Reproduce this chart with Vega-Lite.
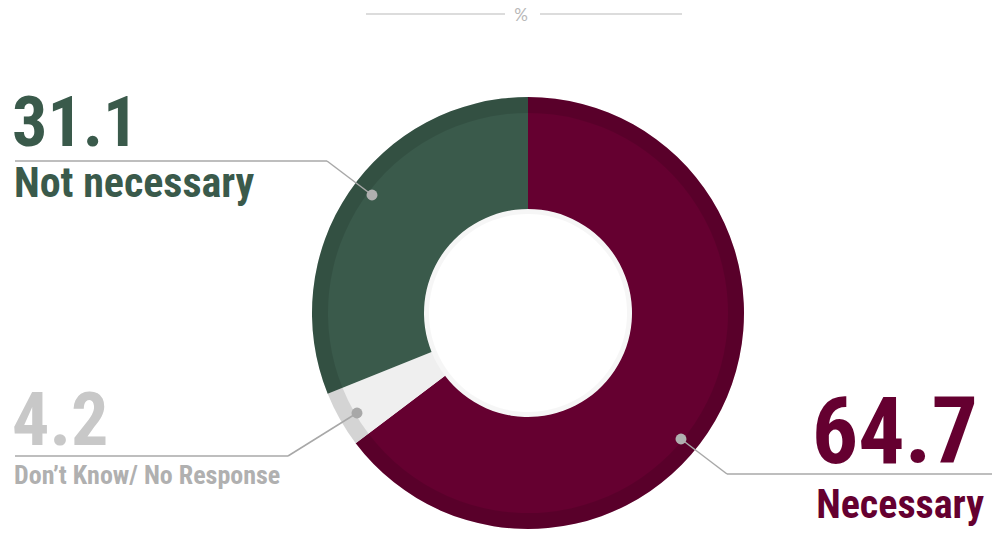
{
  "$schema": "https://vega.github.io/schema/vega-lite/v6.json",
  "width": 996,
  "height": 533,
  "autosize": {"type": "fit", "contains": "padding"},
  "padding": 0,
  "background": "white",
  "view": {"stroke": null},
  "config": {"font": "Roboto Condensed, Liberation Sans Narrow, Roboto, sans-serif"},
  "data": {"values": [
    {"answer": "Necessary", "pct": 64.7},
    {"answer": "Don’t Know/ No Response", "pct": 4.2},
    {"answer": "Not necessary", "pct": 31.1}
  ]},
  "layer": [
    {
      "mark": {"type": "arc", "innerRadius": 104, "outerRadius": 216},
      "encoding": {
        "x": {"datum": 528, "type": "quantitative", "scale": {"domain": [0, 996], "nice": false, "zero": false}, "axis": null},
        "y": {"datum": 313, "type": "quantitative", "scale": {"domain": [0, 533], "nice": false, "zero": false, "reverse": true}, "axis": null},
        "theta": {"field": "pct", "type": "quantitative", "stack": true, "scale": {"range": [4.06519, 10.34838]}},
        "order": {"field": "pct", "type": "quantitative", "sort": "ascending"},
        "color": {"field": "answer", "type": "nominal",
          "scale": {"domain": ["Necessary", "Don’t Know/ No Response", "Not necessary"], "range": ["#650030", "#efefef", "#3a5a4b"]}, "legend": null}
      }
    },
    {
      "mark": {"type": "arc", "innerRadius": 200, "outerRadius": 216, "opacity": 0.11},
      "encoding": {
        "x": {"datum": 528, "type": "quantitative"},
        "y": {"datum": 313, "type": "quantitative"},
        "theta": {"field": "pct", "type": "quantitative", "stack": true},
        "order": {"field": "pct", "type": "quantitative", "sort": "ascending"},
        "color": {"value": "black"}
      }
    },
    {
      "mark": {"type": "arc", "innerRadius": 99, "outerRadius": 104, "opacity": 0.035},
      "encoding": {
        "x": {"datum": 528, "type": "quantitative"},
        "y": {"datum": 313, "type": "quantitative"},
        "theta": {"field": "pct", "type": "quantitative", "stack": true},
        "order": {"field": "pct", "type": "quantitative", "sort": "ascending"},
        "color": {"value": "black"}
      }
    },
    {
      "data": {"values": [{}]},
      "mark": {"type": "rule", "color": "#d0d0d0", "strokeWidth": 1.5},
      "encoding": {"x": {"datum": 366}, "x2": {"datum": 505}, "y": {"datum": 14}, "y2": {"datum": 14}}
    },
    {
      "data": {"values": [{}]},
      "mark": {"type": "rule", "color": "#d0d0d0", "strokeWidth": 1.5},
      "encoding": {"x": {"datum": 540}, "x2": {"datum": 682}, "y": {"datum": 14}, "y2": {"datum": 14}}
    },
    {
      "data": {"values": [{"t": "%"}]},
      "mark": {"type": "text", "fontSize": 17, "color": "#b8b8b8", "align": "center", "baseline": "alphabetic", "font": "Lato"},
      "encoding": {"x": {"datum": 521}, "y": {"datum": 21}, "text": {"field": "t"}}
    },
    {
      "data": {"values": [{}]},
      "mark": {"type": "rule", "color": "#a8a8a8", "strokeWidth": 1.5},
      "encoding": {"x": {"datum": 15}, "x2": {"datum": 327}, "y": {"datum": 161}, "y2": {"datum": 161}}
    },
    {
      "data": {"values": [{}]},
      "mark": {"type": "rule", "color": "#a8a8a8", "strokeWidth": 1.5},
      "encoding": {"x": {"datum": 327}, "x2": {"datum": 372}, "y": {"datum": 161}, "y2": {"datum": 195}}
    },
    {
      "data": {"values": [{}]},
      "mark": {"type": "rule", "color": "#a8a8a8", "strokeWidth": 1.5},
      "encoding": {"x": {"datum": 15}, "x2": {"datum": 288}, "y": {"datum": 456}, "y2": {"datum": 456}}
    },
    {
      "data": {"values": [{}]},
      "mark": {"type": "rule", "color": "#a8a8a8", "strokeWidth": 1.5},
      "encoding": {"x": {"datum": 288}, "x2": {"datum": 357}, "y": {"datum": 456}, "y2": {"datum": 413}}
    },
    {
      "data": {"values": [{}]},
      "mark": {"type": "rule", "color": "#a8a8a8", "strokeWidth": 1.5},
      "encoding": {"x": {"datum": 727}, "x2": {"datum": 992}, "y": {"datum": 474}, "y2": {"datum": 474}}
    },
    {
      "data": {"values": [{}]},
      "mark": {"type": "rule", "color": "#a8a8a8", "strokeWidth": 1.5},
      "encoding": {"x": {"datum": 681}, "x2": {"datum": 727}, "y": {"datum": 439}, "y2": {"datum": 474}}
    },
    {
      "transform": [{"filter": "datum.answer === 'Not necessary'"}],
      "mark": {"type": "point", "filled": true, "color": "#b0b0b0", "opacity": 1, "size": 120},
      "encoding": {"x": {"datum": 372}, "y": {"datum": 195}}
    },
    {
      "transform": [{"filter": "datum.answer === 'Don’t Know/ No Response'"}],
      "mark": {"type": "point", "filled": true, "color": "#a8a8a8", "opacity": 1, "size": 120},
      "encoding": {"x": {"datum": 357}, "y": {"datum": 413}}
    },
    {
      "transform": [{"filter": "datum.answer === 'Necessary'"}],
      "mark": {"type": "point", "filled": true, "color": "#b0b0b0", "opacity": 1, "size": 120},
      "encoding": {"x": {"datum": 681}, "y": {"datum": 439}}
    },
    {
      "transform": [{"filter": "datum.answer === 'Not necessary'"}],
      "mark": {"type": "text", "fontSize": 70, "fontWeight": "bold", "color": "#3a5a4b", "align": "left", "baseline": "alphabetic"},
      "encoding": {"x": {"datum": 12}, "y": {"datum": 146}, "text": {"field": "pct", "type": "quantitative", "format": ".1f"}}
    },
    {
      "transform": [{"filter": "datum.answer === 'Not necessary'"}],
      "mark": {"type": "text", "fontSize": 42, "fontWeight": "bold", "color": "#3a5a4b", "align": "left", "baseline": "alphabetic"},
      "encoding": {"x": {"datum": 14}, "y": {"datum": 197}, "text": {"field": "answer"}}
    },
    {
      "transform": [{"filter": "datum.answer === 'Don’t Know/ No Response'"}],
      "mark": {"type": "text", "fontSize": 74, "fontWeight": "bold", "color": "#c8c8c8", "align": "left", "baseline": "alphabetic"},
      "encoding": {"x": {"datum": 12}, "y": {"datum": 445}, "text": {"field": "pct", "type": "quantitative", "format": ".1f"}}
    },
    {
      "transform": [{"filter": "datum.answer === 'Don’t Know/ No Response'"}],
      "mark": {"type": "text", "fontSize": 26, "fontWeight": "bold", "color": "#b0b0b0", "align": "left", "baseline": "alphabetic"},
      "encoding": {"x": {"datum": 14}, "y": {"datum": 484}, "text": {"field": "answer"}}
    },
    {
      "transform": [{"filter": "datum.answer === 'Necessary'"}],
      "mark": {"type": "text", "fontSize": 92, "fontWeight": "bold", "color": "#650030", "align": "right", "baseline": "alphabetic"},
      "encoding": {"x": {"datum": 978}, "y": {"datum": 463}, "text": {"field": "pct", "type": "quantitative", "format": ".1f"}}
    },
    {
      "transform": [{"filter": "datum.answer === 'Necessary'"}],
      "mark": {"type": "text", "fontSize": 40, "fontWeight": "bold", "color": "#650030", "align": "right", "baseline": "alphabetic"},
      "encoding": {"x": {"datum": 984}, "y": {"datum": 518}, "text": {"field": "answer"}}
    }
  ]
}
